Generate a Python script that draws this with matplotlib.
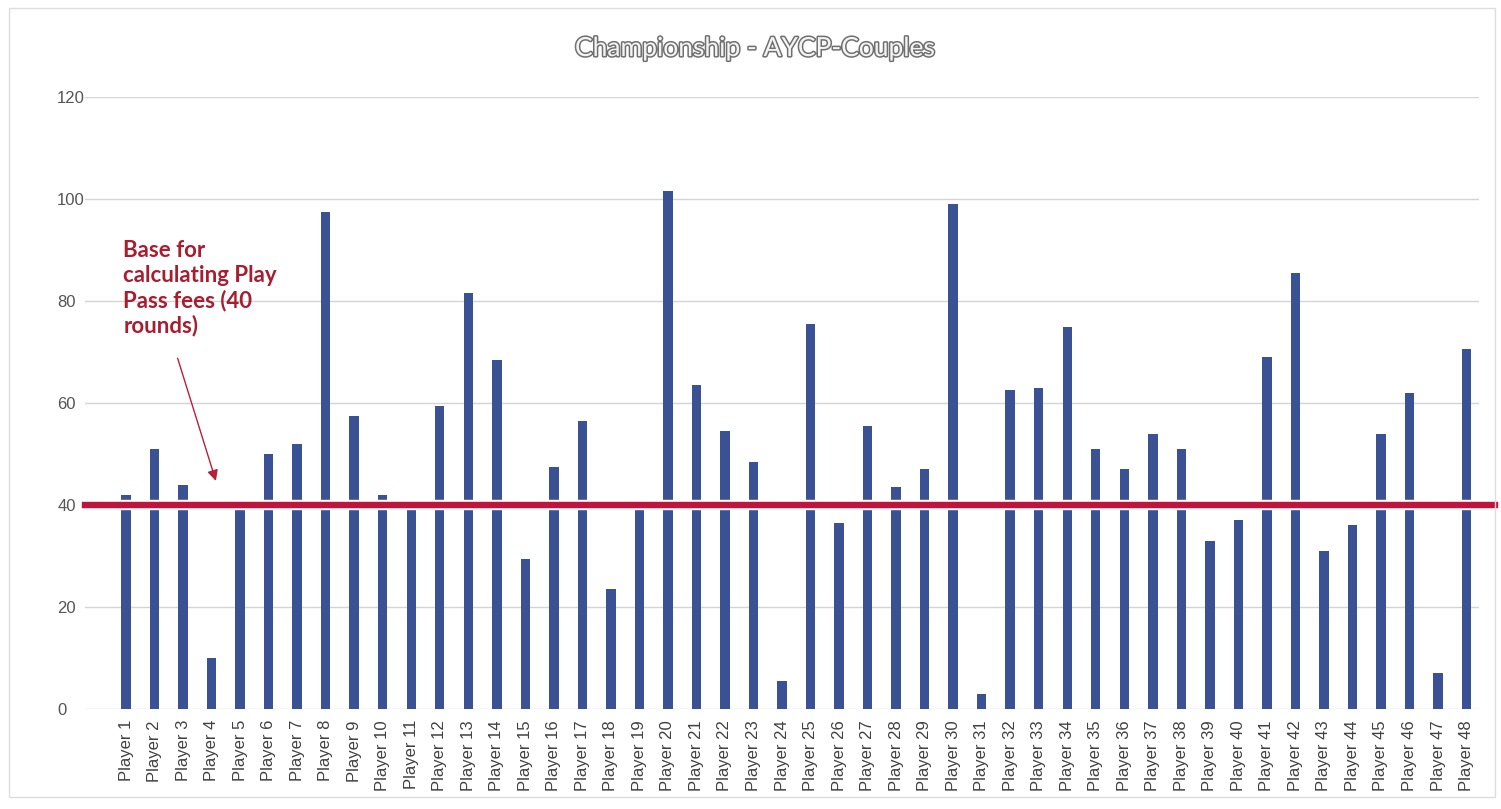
import numpy as np
import matplotlib.pyplot as plt
import matplotlib.patheffects as pe
from matplotlib.patches import Rectangle

# Data
players = [f"Player {i}" for i in range(1, 49)]
rounds = [42, 51, 44, 10, 39, 50, 52, 97.5, 57.5, 42,
          39, 59.5, 81.5, 68.5, 29.5, 47.5, 56.5, 23.5, 39, 101.5,
          63.5, 54.5, 48.5, 5.5, 75.5, 36.5, 55.5, 43.5, 47, 99,
          3, 62.5, 63, 75, 51, 47, 54, 51, 33, 37,
          69, 85.5, 31, 36, 54, 62, 7, 70.5]
base_rounds = 40
yticks = [0, 20, 40, 60, 80, 100, 120]

title = "Championship - AYCP-Couples"
note = "Base for\ncalculating Play\nPass fees (40\nrounds)"

fig = plt.figure(figsize=(15.01, 8.09), dpi=100)
ax = fig.add_axes([0.0566, 0.1236, 0.929, 0.7565])

x = np.arange(len(players))
ax.bar(x, rounds, width=0.33, color="#3a5293", zorder=2)

# base line at 40 rounds (white halo cuts the bars like in the original)
ax.axhline(base_rounds, xmin=0, xmax=1.011, color="#c0143c", lw=4.6,
           clip_on=False, zorder=3,
           path_effects=[pe.withStroke(linewidth=7.5, foreground="white")])

ax.set_xlim(-1.44, len(players) - 0.55)
ax.set_ylim(0, 120)
ax.set_yticks(yticks)
ax.grid(axis="y", color="#d4d4d4", lw=1, zorder=0)
ax.set_axisbelow(True)
for s in ax.spines.values():
    s.set_visible(False)

ax.set_xticks(x)
ax.set_xticklabels(players, rotation=90, fontsize=12, color="#404040",
                   family="Liberation Sans")
ax.tick_params(axis="x", length=0, pad=8)
ax.tick_params(axis="y", length=0, pad=20, labelsize=12, labelcolor="#555555")
for lab in ax.get_yticklabels():
    lab.set_ha("left")
    lab.set_family("Liberation Sans")

# annotation
ax.annotate("", xy=(3.18, 44.2), xytext=(1.78, 69.3),
            arrowprops=dict(arrowstyle="-|>", color="#b8203a", lw=1,
                            mutation_scale=16), zorder=4)
ax.text(-0.1, 91.9, note, fontsize=16, fontweight="bold", color="#a81d30",
        family="Lato", va="top", ha="left", linespacing=1.2, zorder=4)

fig.text(0.503, 0.94, title, fontsize=19, ha="center", va="center",
         family="Lato", color="#f4f4f4",
         path_effects=[pe.withStroke(linewidth=2.2, foreground="#707070")])

# faint chart border
fig.patches.append(Rectangle((0.006, 0.015), 0.99, 0.975, transform=fig.transFigure,
                             fill=False, edgecolor="#dddddd", lw=1))

fig.savefig("out.png", dpi=100)
